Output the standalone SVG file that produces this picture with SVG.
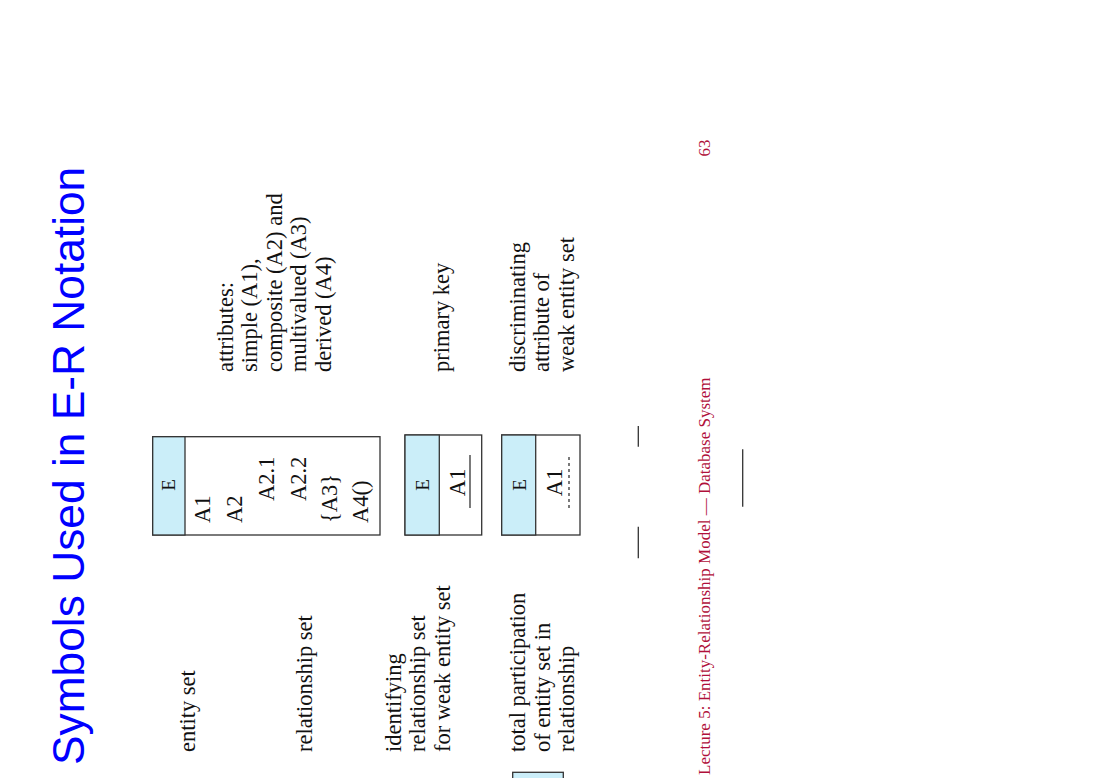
<svg xmlns="http://www.w3.org/2000/svg" width="1100" height="778" viewBox="0 0 1100 778">
<style>
.t{font-family:"Liberation Serif","Times New Roman",serif;font-size:22.5px;fill:#111}
.e{font-family:"Liberation Serif","Times New Roman",serif;font-size:19px;fill:#111}
.ttl{font-family:"Liberation Sans",Arial,sans-serif;font-size:44.3px;fill:#0000ff}
.ft{font-family:"Liberation Serif","Times New Roman",serif;font-size:17px;fill:#b0103a}
.box{fill:#ffffff;stroke:#333;stroke-width:1.3}
.hd{fill:#cbeef9;stroke:#333;stroke-width:1.3}
.ln{stroke:#333;stroke-width:1.3;fill:none}
</style>
<rect width="1100" height="778" fill="#ffffff"/>
<g transform="translate(0,778) rotate(-90)">
  <g id="title"><text class="ttl" x="13" y="84">Symbols Used in E-R Notation</text></g>

  <g id="labels-left">
    <text class="t" x="26" y="194.5">entity set</text>
    <text class="t" x="26" y="312">relationship set</text>
    <text class="t" x="26" y="400.5">identifying</text>
    <text class="t" x="26" y="425">relationship set</text>
    <text class="t" x="26" y="449.5">for weak entity set</text>
    <text class="t" x="26" y="525">total participation</text>
    <text class="t" x="26" y="549.5">of entity set in</text>
    <text class="t" x="26" y="574">relationship</text>
  </g>

  <g id="labels-right">
    <text class="t" x="406" y="232.5">attributes:</text>
    <text class="t" x="406" y="257">simple (A1),</text>
    <text class="t" x="406" y="281.5">composite (A2) and</text>
    <text class="t" x="406" y="306">multivalued (A3)</text>
    <text class="t" x="406" y="330.5">derived (A4)</text>
    <text class="t" x="406" y="449">primary key</text>
    <text class="t" x="406" y="524.5">discriminating</text>
    <text class="t" x="406" y="549">attribute of</text>
    <text class="t" x="406" y="573.5">weak entity set</text>
  </g>

  <g id="entity-attributes">
    <rect class="box" x="243" y="152.7" width="98.3" height="227.3"/>
    <rect class="hd" x="243" y="152.7" width="98.3" height="32.3"/>
    <text class="e" x="293" y="174.5" text-anchor="middle">E</text>
    <text class="t" x="255" y="210">A1</text>
    <text class="t" x="255" y="241.7">A2</text>
    <text class="t" x="277" y="274">A2.1</text>
    <text class="t" x="277" y="306">A2.2</text>
    <text class="t" x="255" y="337">{A3}</text>
    <text class="t" x="255" y="368">A4()</text>
  </g>

  <g id="entity-primary-key">
    <rect class="box" x="243" y="405" width="100" height="76.7"/>
    <rect class="hd" x="243" y="405" width="100" height="34.3"/>
    <text class="e" x="293" y="429" text-anchor="middle">E</text>
    <text class="t" x="295.5" y="465" text-anchor="middle">A1</text>
    <line class="ln" x1="270" y1="470" x2="323" y2="470"/>
  </g>

  <g id="entity-discriminator">
    <rect class="box" x="243" y="501.7" width="100" height="78.3"/>
    <rect class="hd" x="243" y="501.7" width="100" height="34"/>
    <text class="e" x="293" y="525.5" text-anchor="middle">E</text>
    <text class="t" x="295.5" y="561.7" text-anchor="middle">A1</text>
    <line class="ln" x1="270" y1="569" x2="323" y2="569" stroke-dasharray="3,3"/>
  </g>

  <g id="entity-partial">
    <rect class="hd" x="-14" y="512.7" width="19.7" height="50.6"/>
  </g>

  <g id="connectors">
    <line class="ln" x1="331.3" y1="638.3" x2="352" y2="638.3"/>
    <line class="ln" x1="219.7" y1="638.3" x2="251.3" y2="638.3"/>
    <line class="ln" x1="271.3" y1="742.7" x2="328.7" y2="742.7"/>
  </g>

  <g id="footer">
    <text class="ft" x="3" y="710">Lecture 5: Entity-Relationship Model — Database System</text>
    <text class="ft" x="638.5" y="710" text-anchor="end">63</text>
  </g>
</g>
</svg>
